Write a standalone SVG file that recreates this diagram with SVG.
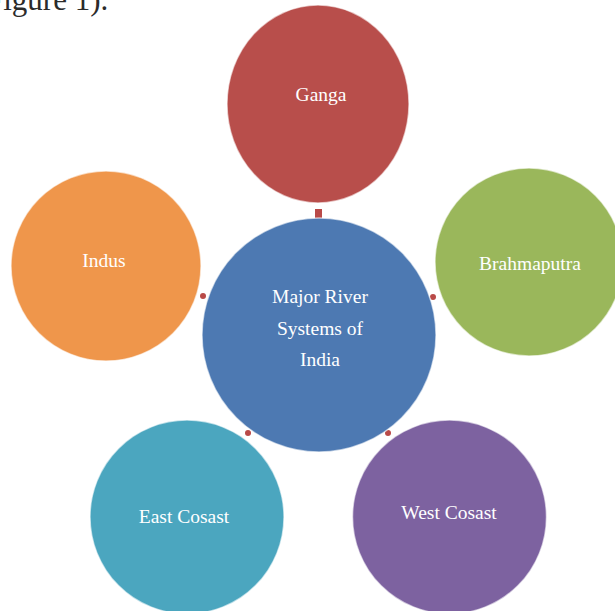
<svg xmlns="http://www.w3.org/2000/svg" width="615" height="611" viewBox="0 0 615 611">
<style>
.c{stroke:#ffffff;stroke-opacity:0.6;stroke-width:1.5}
.t{font-family:"Liberation Serif","DejaVu Serif",serif;font-size:19.5px;fill:#ffffff;text-anchor:middle}
.k{fill:#B94A48}
</style>
<rect width="615" height="611" fill="#ffffff"/>
<text x="-14" y="10" font-family="Liberation Serif, serif" font-size="31" fill="#2b2b2b">Figure 1).</text>
<g id="connectors">
<rect class="k" x="315" y="209" width="7" height="11"/>
<circle class="k" cx="203" cy="296" r="3"/>
<circle class="k" cx="433" cy="297" r="3"/>
<circle class="k" cx="248" cy="433" r="3"/>
<circle class="k" cx="388" cy="433" r="3"/>
</g>
<g id="ganga"><ellipse class="c" cx="318" cy="104" rx="91" ry="99" fill="#B84E4B"/><text class="t" x="321" y="101">Ganga</text></g>
<g id="brahmaputra"><circle class="c" cx="529" cy="262" r="94" fill="#9AB75B"/><text class="t" x="530" y="270">Brahmaputra</text></g>
<g id="indus"><circle class="c" cx="106" cy="266" r="95" fill="#EF964B"/><text class="t" x="104" y="267">Indus</text></g>
<g id="center"><circle class="c" cx="319" cy="335" r="117" fill="#4D79B2"/>
<text class="t" x="320" y="303">Major River</text><text class="t" x="320" y="335">Systems of</text><text class="t" x="320" y="366">India</text></g>
<g id="east"><circle class="c" cx="187" cy="517" r="97" fill="#4BA6BF"/><text class="t" x="184" y="523">East Cosast</text></g>
<g id="west"><circle class="c" cx="449.5" cy="517" r="97" fill="#7D62A0"/><text class="t" x="449" y="519">West Cosast</text></g>
</svg>
